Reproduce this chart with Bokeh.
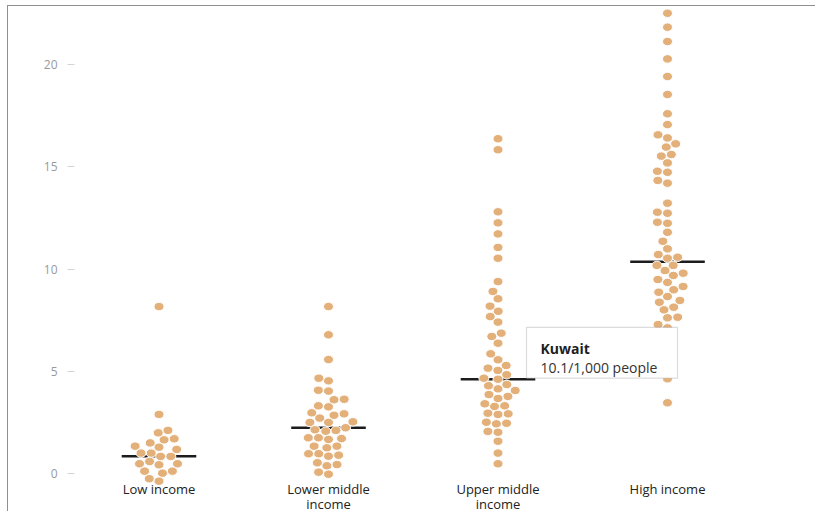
import math
import numpy as np
from bokeh.plotting import figure
from bokeh.models import Range1d, FixedTicker, BoxAnnotation, Label, ColumnDataSource
from bokeh.embed import file_html
from bokeh.resources import INLINE

# ---------------- data ----------------
CATEGORIES = ["Low income", "Lower middle income", "Upper middle income", "High income"]
TICK_LABELS = ["Low income", "Lower middle\nincome", "Upper middle\nincome", "High income"]
Y_TICKS = [0, 5, 10, 15, 20]

LOW_INCOME = [8.17, 2.90, 2.00, 2.12, 1.51, 1.71, 1.66, 1.35, 1.30, 1.19, 1.01, 1.01,
              0.85, 0.85, 0.49, 0.49, 0.44, 0.60, 0.03, 0.13, 0.13, -0.36, -0.24]
LOWER_MIDDLE = [8.17, 6.79, 5.58, 4.54, 4.67, 4.04, 4.08, 3.64, 3.62, 3.32, 3.27, 2.93,
                2.86, 2.98, 2.72, 2.51, 2.54, 2.51, 2.25, 2.08, 2.12, 2.15, 1.76, 1.68,
                1.72, 1.76, 1.35, 1.27, 1.35, 0.98, 0.91, 0.86, 0.98, 0.54, 0.45, 0.39,
                0.08, -0.02]
UPPER_MIDDLE = [16.37, 15.83, 12.80, 12.26, 11.72, 11.06, 10.53, 9.39, 8.91, 8.55, 8.19,
                7.94, 7.68, 7.41, 6.87, 6.71, 6.38, 5.86, 5.57, 5.29, 5.16, 5.05, 4.67,
                4.84, 4.62, 4.15, 4.36, 4.07, 4.30, 3.78, 3.68, 3.87, 3.32, 3.29, 3.42,
                2.93, 2.90, 2.96, 2.44, 2.47, 2.52, 2.03, 2.07, 1.59, 1.01, 0.49]
HIGH_INCOME = [22.50, 21.82, 21.12, 20.27, 19.41, 18.53, 17.59, 17.06, 16.56, 16.41,
               16.12, 15.96, 15.60, 15.52, 15.19, 14.78, 14.73, 14.33, 14.20, 13.22,
               12.73, 12.78, 12.24, 12.29, 11.80, 11.36, 10.99, 10.71, 10.58, 10.53,
               10.18, 10.18, 9.93, 9.69, 9.80, 9.49, 9.15, 9.35, 8.99, 8.66, 8.87, 8.47,
               8.14, 8.38, 8.01, 7.65, 7.62, 7.29, 7.13, 4.64, 3.47]
MEDIANS = [0.86, 2.25, 4.62, 10.36]

TIP_TITLE = "Kuwait"
TIP_TEXT = "10.1/1,000 people"

# ---------------- layout / style ----------------
W, H = 808, 506
BORDER_LEFT = 66
X_START, X_END = -0.4985, 3.879
Y_START, Y_END = -1.891, 22.83
PX_PER_X = (W - BORDER_LEFT) / (X_END - X_START)
PX_PER_Y = H / (Y_END - Y_START)

DOT_COLOR = "#e3b07a"
DOT_W, DOT_H = 10, 8.5
SWARM_D = 8.5
SWARM_STRETCH = 1.2
MEDIAN_HALF = 0.22
XAXIS_AT = -0.22

TIP_LEFT, TIP_RIGHT = 2.168, 3.059
TIP_BOTTOM, TIP_TOP = 4.67, 7.15


def swarm_offsets(vals, d):
    ys = np.asarray(vals, dtype=float) * PX_PER_Y
    xs = np.zeros(len(ys))
    placed = []
    for i in np.argsort(ys, kind="stable"):
        y = ys[i]
        cands = [0.0]
        for px, py in placed:
            dy = abs(py - y)
            if dy < d:
                dx = math.sqrt(d * d - dy * dy)
                cands += [px - dx, px + dx]
        cands.sort(key=lambda c: (round(abs(c), 6), c))
        for c in cands:
            if all((c - px) ** 2 + (y - py) ** 2 >= d * d - 1e-6 for px, py in placed):
                xs[i] = c
                break
        placed.append((xs[i], y))
    return xs * SWARM_STRETCH / PX_PER_X


groups = [LOW_INCOME, LOWER_MIDDLE, UPPER_MIDDLE, HIGH_INCOME]
xs_all, ys_all = [], []
for gi, vals in enumerate(groups):
    off = swarm_offsets(vals, SWARM_D)
    xs_all += list(gi + off)
    ys_all += list(vals)
dots = ColumnDataSource(dict(x=xs_all, y=ys_all))

centers = list(range(len(CATEGORIES)))
med = ColumnDataSource(dict(x0=[c - MEDIAN_HALF for c in centers],
                            x1=[c + MEDIAN_HALF for c in centers],
                            y=MEDIANS))

p = figure(width=W, height=H, output_backend="svg", toolbar_location=None,
           x_range=Range1d(X_START, X_END), y_range=Range1d(Y_START, Y_END),
           min_border_left=BORDER_LEFT, min_border_right=0,
           min_border_top=0, min_border_bottom=0)
p.styles = {"border-left": "1px solid #8f8f8f", "border-top": "1px solid #8f8f8f",
            "margin-left": "7px", "margin-top": "5px"}
p.outline_line_color = None
p.xgrid.visible = False
p.ygrid.visible = False
p.background_fill_color = "white"
p.border_fill_color = "white"

# y axis
p.yaxis.ticker = FixedTicker(ticks=Y_TICKS)
p.yaxis.axis_line_color = None
p.yaxis.major_tick_line_color = "#d4d4d4"
p.yaxis.major_tick_out = 7
p.yaxis.major_tick_in = 0
p.yaxis.minor_tick_line_color = None
p.yaxis.major_label_standoff = 10
p.yaxis.major_label_text_font = "Open Sans"
p.yaxis.major_label_text_font_size = "12px"
p.yaxis.major_label_text_color = "#9a9a9a"

# x axis
p.xaxis.ticker = FixedTicker(ticks=centers)
p.xaxis.major_label_overrides = {c: TICK_LABELS[c] for c in centers}
p.xaxis.fixed_location = XAXIS_AT
p.xaxis.axis_line_color = None
p.xaxis.major_tick_line_color = None
p.xaxis.minor_tick_line_color = None
p.xaxis.major_tick_out = 0
p.xaxis.major_label_standoff = 2
p.xaxis.major_label_text_font = "Open Sans"
p.xaxis.major_label_text_font_size = "13px"
p.xaxis.major_label_text_color = "#222222"
p.xaxis.major_label_text_line_height = 0.8

p.segment(x0="x0", x1="x1", y0="y", y1="y", source=med,
          line_color="#1c1c1c", line_width=2.5)
p.ellipse(x="x", y="y", width=DOT_W, height=DOT_H, width_units="screen",
          height_units="screen", source=dots, fill_color=DOT_COLOR,
          line_color="white", line_width=1)

box = BoxAnnotation(left=TIP_LEFT, right=TIP_RIGHT, bottom=TIP_BOTTOM, top=TIP_TOP,
                    fill_color="white", fill_alpha=1.0, line_color="#8a8a8a",
                    line_width=1.2)
p.add_layout(box)
p.add_layout(Label(x=TIP_LEFT, y=TIP_TOP, x_offset=14, y_offset=-21.5, text=TIP_TITLE,
                   text_font="Open Sans", text_font_style="bold", text_font_size="14px",
                   text_color="#1e1e1e", text_baseline="alphabetic"))
p.add_layout(Label(x=TIP_LEFT, y=TIP_TOP, x_offset=14, y_offset=-40.5, text=TIP_TEXT,
                   text_font="Open Sans", text_font_size="14px",
                   text_color="#333333", text_baseline="alphabetic"))

open("out.html", "w").write(file_html(p, INLINE))
